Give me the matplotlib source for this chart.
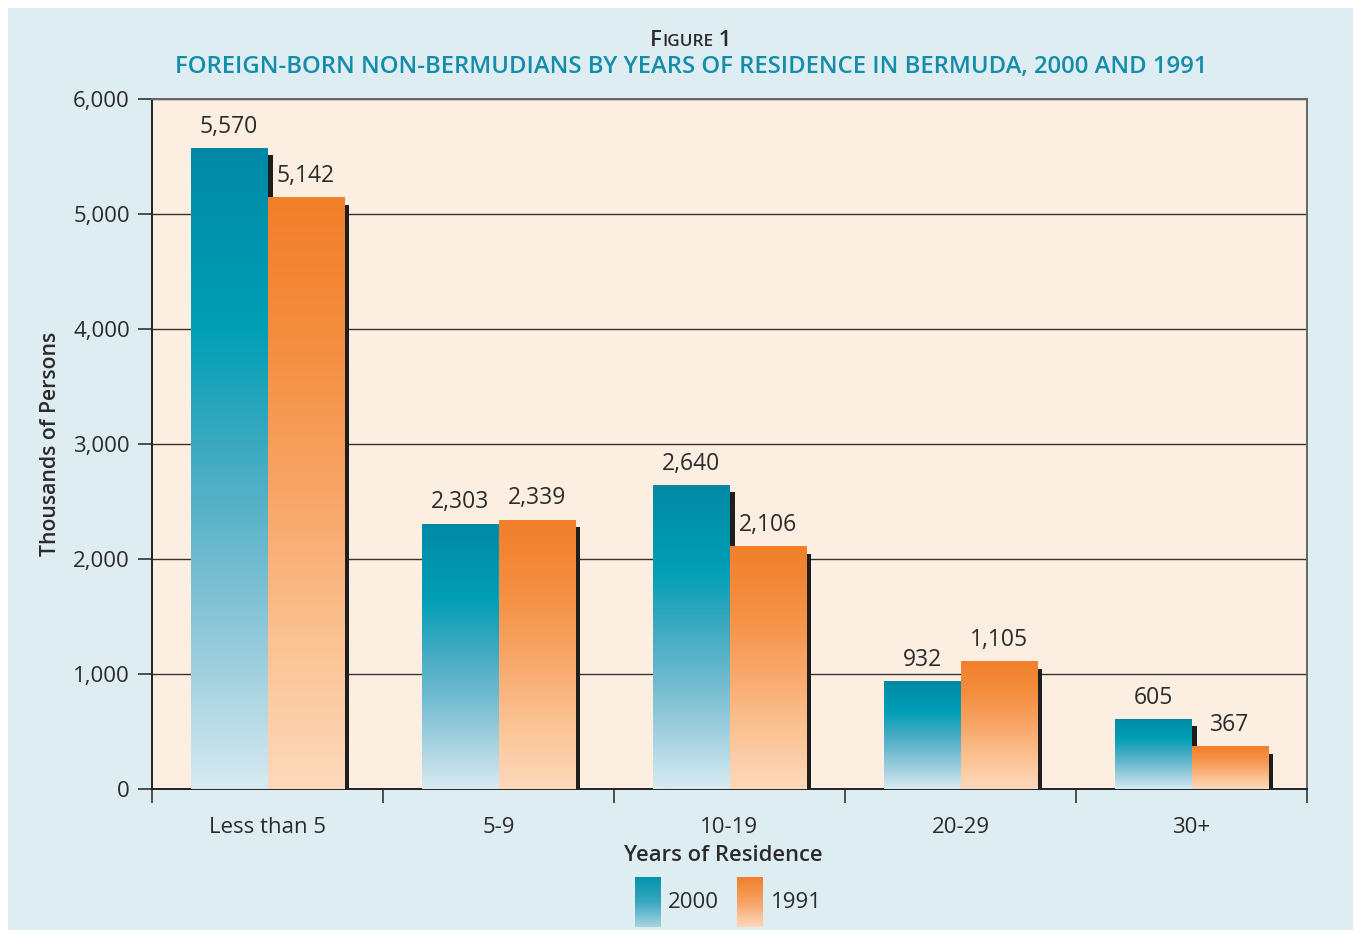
import matplotlib
matplotlib.use('Agg')
import matplotlib.pyplot as plt
from matplotlib.colors import LinearSegmentedColormap
from matplotlib.patches import Rectangle
import numpy as np

# Data
categories = ['Less than 5', '5-9', '10-19', '20-29', '30+']
series_names = ['2000', '1991']
values_2000 = [5570, 2303, 2640, 932, 605]
values_1991 = [5142, 2339, 2106, 1105, 367]
y_ticks = [0, 1000, 2000, 3000, 4000, 5000, 6000]

plt.rcParams['font.family'] = ['Open Sans', 'DejaVu Sans']

BG = '#deedf2'
PLOT_BG = '#fdeee2'
TEAL_TITLE = '#138da9'
TEXT = '#2b2b2b'

teal_cmap = LinearSegmentedColormap.from_list('teal', [
    (0.0, '#d7eaf1'), (0.18, '#a2d0df'), (0.36, '#6ebacf'),
    (0.54, '#3aa9c0'), (0.72, '#009fb6'), (1.0, '#0089a5')])
orange_cmap = LinearSegmentedColormap.from_list('orange', [
    (0.0, '#fdd9bc'), (0.25, '#fbc292'), (0.5, '#f8a567'),
    (0.75, '#f48e40'), (1.0, '#f27f2a')])

W, H = 1353, 930
fig = plt.figure(figsize=(W / 100, H / 100), dpi=100)
fig.patch.set_facecolor('white')
fig.patches.append(Rectangle((8 / W, 0), 1 - 8 / W, 1 - 8 / H, transform=fig.transFigure,
                             facecolor=BG, edgecolor='none', zorder=-10))

ax = fig.add_axes([152 / W, 1 - 789 / H, (1307 - 152) / W, (789 - 99) / H])
ax.set_facecolor(PLOT_BG)

x = np.arange(len(categories))
bw = 0.333
grad = np.linspace(0, 1, 256).reshape(-1, 1)
px_x = len(categories) / (1307 - 152)   # data units per pixel
px_y = 6000 / (789 - 99)

def draw_bar(x0, h, cmap):
    # drop shadow, then gradient-filled bar
    ax.add_patch(Rectangle((x0 + 5 * px_x, 0), bw, h - 7 * px_y,
                           facecolor='#1e1e1e', edgecolor='none', zorder=2))
    ax.imshow(grad, cmap=cmap, origin='lower', aspect='auto',
              extent=[x0, x0 + bw, 0, h], zorder=3, interpolation='bilinear')

for i in range(len(categories)):
    draw_bar(x[i] - bw, values_2000[i], teal_cmap)
for i in range(len(categories)):
    draw_bar(x[i], values_1991[i], orange_cmap)

for i in range(len(categories)):
    ax.annotate(f'{values_2000[i]:,}', (x[i] - bw / 2, values_2000[i]), xytext=(0, 7),
                textcoords='offset points', ha='center', va='bottom', fontsize=16.5, color=TEXT)
    ax.annotate(f'{values_1991[i]:,}', (x[i] + bw / 2, values_1991[i]), xytext=(0, 7),
                textcoords='offset points', ha='center', va='bottom', fontsize=16.5, color=TEXT)

ax.set_xlim(-0.5, len(categories) - 0.5)
ax.set_ylim(0, 6000)
ax.set_yticks(y_ticks)
ax.set_yticklabels([f'{v:,}' for v in y_ticks], fontsize=16, color=TEXT)
ax.set_xticks(x)
ax.set_xticklabels(categories, fontsize=16, color=TEXT)
ax.set_xticks(np.arange(-0.5, len(categories)), minor=True)
ax.tick_params(axis='x', which='major', length=0, pad=20)
ax.tick_params(axis='x', which='minor', length=10, width=1.2, color='#333333', direction='out')
ax.tick_params(axis='y', length=10, width=1.2, color='#333333', pad=6)
ax.yaxis.grid(True, color='#333333', linewidth=1.0)
ax.set_axisbelow(True)

for s in ['left', 'bottom']:
    ax.spines[s].set_color('#222222')
    ax.spines[s].set_linewidth(1.4)
for s in ['top', 'right']:
    ax.spines[s].set_color('#666666')
    ax.spines[s].set_linewidth(1.4)

ax.set_xlabel('Years of Residence', fontsize=15.8, fontweight='semibold', color=TEXT, labelpad=5)
ax.xaxis.label.set_x((723 - 152) / (1307 - 152))
ax.set_ylabel('Thousands of Persons', fontsize=15.3, fontweight='semibold', color=TEXT, labelpad=9)

# Title
fig.text(691 / W, 1 - 67 / H, 'FOREIGN-BORN NON-BERMUDIANS BY YEARS OF RESIDENCE IN BERMUDA, 2000 AND 1991',
         ha='center', va='center', fontsize=17.2, fontweight='semibold', color=TEAL_TITLE)
# "Figure 1" in small caps
renderer = fig.canvas.get_renderer()
parts = [('F', 16), ('IGURE', 12.3), (' 1', 16)]
objs = []
for txt, fs in parts:
    objs.append(fig.text(0, 1 - 46 / H, txt, fontsize=fs, fontweight='semibold', color=TEXT,
                         ha='left', va='baseline'))
widths = [o.get_window_extent(renderer).width for o in objs]
cur = 691 - sum(widths) / 2
for o, w in zip(objs, widths):
    o.set_x(cur / W)
    cur += w

# Legend
lax = fig.add_axes([0, 0, 1, 1], facecolor='none')
lax.axis('off')
lax.imshow(grad, cmap=LinearSegmentedColormap.from_list('t2', ['#a8d3e1', '#39a8c0', '#0093ab']),
           origin='lower', aspect='auto', extent=[635, 661, 927, 877], interpolation='bilinear')
lax.imshow(grad, cmap=LinearSegmentedColormap.from_list('o2', ['#fdd9bc', '#f7a263', '#f27f2a']),
           origin='lower', aspect='auto', extent=[737, 763, 927, 877], interpolation='bilinear')
lax.set_xlim(0, W)
lax.set_ylim(H, 0)
lax.text(668, 902, series_names[0], fontsize=16, color=TEXT, va='center', ha='left')
lax.text(771, 902, series_names[1], fontsize=16, color=TEXT, va='center', ha='left')

fig.savefig('out.png', dpi=100, facecolor=fig.get_facecolor())
